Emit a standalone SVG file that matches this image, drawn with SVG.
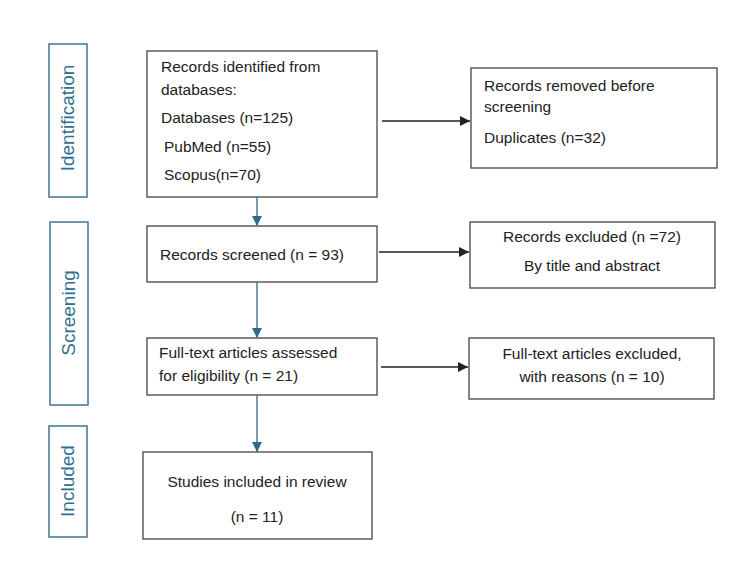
<svg xmlns="http://www.w3.org/2000/svg" width="750" height="567" viewBox="0 0 750 567">
<defs>
<style>
.box{fill:#fff;stroke:#444;stroke-width:1.3}
.side{fill:#fff;stroke:#3f7590;stroke-width:1.5}
.t{font-family:"Liberation Sans",Arial,sans-serif;font-size:15.5px;fill:#222}
.c{text-anchor:middle}
.lab{font-family:"Liberation Sans",Arial,sans-serif;font-size:19px;fill:#2f6f8f;text-anchor:middle}
.blk{stroke:#222;stroke-width:1.3;fill:none}
.tl{stroke:#2f6a86;stroke-width:1.3;fill:none}
</style>
<marker id="ab" viewBox="0 0 10 10" refX="10" refY="5" markerWidth="10" markerHeight="10" markerUnits="userSpaceOnUse" orient="auto"><path d="M0,0 L10,5 L0,10 z" fill="#222"/></marker>
<marker id="at" viewBox="0 0 10 10" refX="10" refY="5" markerWidth="10" markerHeight="10" markerUnits="userSpaceOnUse" orient="auto"><path d="M0,0 L10,5 L0,10 z" fill="#2f6a86"/></marker>
</defs>
<rect width="750" height="567" fill="#fff"/>

<g id="phase-identification">
<rect class="side" x="49" y="44" width="38" height="153"/>
<text class="lab" transform="translate(74,118) rotate(-90)">Identification</text>
</g>
<g id="phase-screening">
<rect class="side" x="50" y="222" width="38" height="183"/>
<text class="lab" transform="translate(75,313) rotate(-90)">Screening</text>
</g>
<g id="phase-included">
<rect class="side" x="49" y="426" width="38" height="111"/>
<text class="lab" transform="translate(74,481) rotate(-90)">Included</text>
</g>

<g id="identified">
<rect class="box" x="147" y="51" width="230" height="146"/>
<text class="t" x="161" y="72">Records identified from</text>
<text class="t" x="161" y="95">databases:</text>
<text class="t" x="161" y="123">Databases (n=125)</text>
<text class="t" x="164" y="152">PubMed (n=55)</text>
<text class="t" x="164" y="180">Scopus(n=70)</text>
</g>
<g id="removed">
<rect class="box" x="471" y="68" width="246" height="100"/>
<text class="t" x="484" y="91">Records removed before</text>
<text class="t" x="484" y="112">screening</text>
<text class="t" x="484" y="143">Duplicates (n=32)</text>
</g>
<g id="screened">
<rect class="box" x="147" y="226" width="230" height="56"/>
<text class="t" x="160" y="260">Records screened (n = 93)</text>
</g>
<g id="excluded">
<rect class="box" x="470" y="222" width="245" height="66"/>
<text class="t c" x="592" y="242">Records excluded (n =72)</text>
<text class="t c" x="592" y="271">By title and abstract</text>
</g>
<g id="assessed">
<rect class="box" x="147" y="338" width="230" height="57"/>
<text class="t" x="159" y="358">Full-text articles assessed</text>
<text class="t" x="159" y="381">for eligibility (n = 21)</text>
</g>
<g id="ft-excluded">
<rect class="box" x="469" y="338" width="245" height="61"/>
<text class="t c" x="592" y="359">Full-text articles excluded,</text>
<text class="t c" x="592" y="382">with reasons (n = 10)</text>
</g>
<g id="included">
<rect class="box" x="143" y="452" width="229" height="87"/>
<text class="t c" x="257" y="487">Studies included in review</text>
<text class="t c" x="257" y="522">(n = 11)</text>
</g>

<g id="connectors">
<line class="blk" x1="382" y1="121" x2="470" y2="121" marker-end="url(#ab)"/>
<line class="blk" x1="379" y1="252" x2="469" y2="252" marker-end="url(#ab)"/>
<line class="blk" x1="381" y1="367" x2="468" y2="367" marker-end="url(#ab)"/>
<line class="tl" x1="257" y1="197" x2="257" y2="226" marker-end="url(#at)"/>
<line class="tl" x1="257" y1="282" x2="257" y2="338" marker-end="url(#at)"/>
<line class="tl" x1="257" y1="395" x2="257" y2="452" marker-end="url(#at)"/>
</g>
</svg>
